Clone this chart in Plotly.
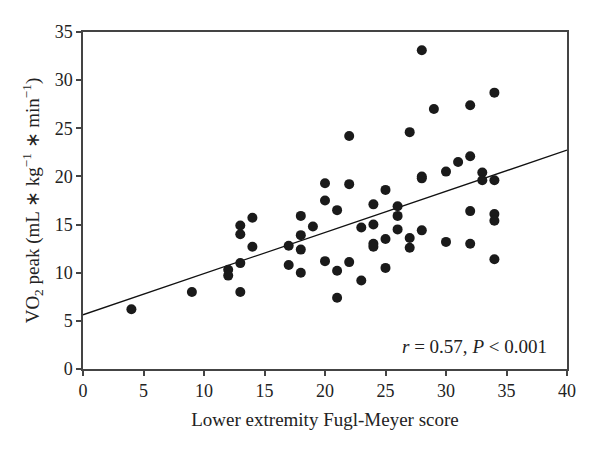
import plotly.graph_objects as go

# Lower extremity Fugl-Meyer score
fm_score = [4, 9, 12, 12, 13, 13, 13, 13, 14, 14, 17, 17,
            18, 18, 18, 18, 19, 20, 20, 20, 21, 21, 21, 22, 22, 22,
            23, 23, 24, 24, 24, 24, 25, 25, 25, 26, 26, 26,
            27, 27, 27, 28, 28, 28, 28, 29, 30, 30, 31,
            32, 32, 32, 32, 33, 33, 34, 34, 34, 34, 34]
# VO2 peak (mL*kg^-1*min^-1)
vo2_peak = [6.2, 8.0, 10.3, 9.7, 14.9, 14.0, 11.0, 8.0, 15.7, 12.7, 12.8, 10.8,
            15.9, 13.9, 12.4, 10.0, 14.8, 19.3, 17.5, 11.2, 16.5, 10.2, 7.4, 24.2, 19.2, 11.1,
            14.7, 9.2, 17.1, 15.0, 13.0, 12.7, 18.6, 13.5, 10.5, 16.9, 15.9, 14.5,
            24.6, 13.6, 12.6, 33.1, 20.0, 19.8, 14.4, 27.0, 20.5, 13.2, 21.5,
            27.4, 22.1, 16.4, 13.0, 20.4, 19.6, 28.7, 19.6, 16.1, 15.4, 11.4]

# regression line
fit_intercept = 5.63
fit_slope = 0.4275
fit_x = [0, 40]
fit_y = [fit_intercept + fit_slope * x for x in fit_x]

x_ticks = [0, 5, 10, 15, 20, 25, 30, 35, 40]
y_ticks = [0, 5, 10, 15, 20, 25, 30, 35]

font_family = "Liberation Serif, Times New Roman, serif"
axis_color = "#444444"

fig = go.Figure()
fig.add_trace(go.Scatter(x=fit_x, y=fit_y, mode="lines",
                         line=dict(color="#111111", width=1.3), showlegend=False))
fig.add_trace(go.Scatter(x=fm_score, y=vo2_peak, mode="markers",
                         marker=dict(color="#1a1a1a", size=10), showlegend=False))

fig.update_layout(
    width=600, height=454,
    margin=dict(l=83, r=33, t=32, b=85),
    plot_bgcolor="white", paper_bgcolor="white",
    font=dict(family=font_family, size=18, color="#222222"),
    xaxis=dict(range=[0, 40], tickvals=x_ticks, showgrid=False, zeroline=False,
               showline=True, mirror=True, linecolor=axis_color, linewidth=1.5,
               ticks="outside", ticklen=5, tickcolor=axis_color, tickwidth=1.5,
               tickfont=dict(size=18),
               title=dict(text="Lower extremity Fugl-Meyer score", standoff=12,
                          font=dict(size=19))),
    yaxis=dict(range=[0, 35], tickvals=y_ticks, showgrid=False, zeroline=False,
               showline=True, mirror=True, linecolor=axis_color, linewidth=1.5,
               ticks="outside", ticklen=5, tickcolor=axis_color, tickwidth=1.5,
               tickfont=dict(size=18),
               title=dict(text="VO<sub>2</sub> peak (mL ∗ kg<sup>−1</sup> ∗ min<sup>−1</sup>)",
                          standoff=10, font=dict(size=19))),
    annotations=[dict(text="<i>r</i> = 0.57, <i>P</i> < 0.001", xref="x", yref="y",
                      x=38.5, y=2.3, xanchor="right", yanchor="middle",
                      showarrow=False, font=dict(size=19))],
)

fig.write_html("out.html", config={"displayModeBar": False})

# remove the default page margin so the figure sits at the window's origin
with open("out.html", "r", encoding="utf-8") as f:
    html = f.read()
html = html.replace("<head>", "<head><style>html,body{margin:0;padding:0;}</style>", 1)
with open("out.html", "w", encoding="utf-8") as f:
    f.write(html)
